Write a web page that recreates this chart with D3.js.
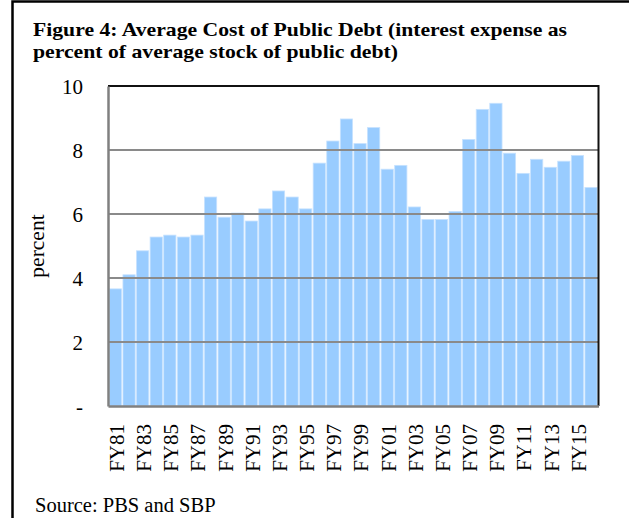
<!DOCTYPE html>
<html>
<head>
<meta charset="utf-8">
<script src="https://cdn.jsdelivr.net/npm/d3@7"></script>
<style>
  html, body { margin: 0; padding: 0; background: #fff; }
  svg { display: block; }
  text { font-family: "Liberation Serif", "Times New Roman", serif; fill: #000; }
</style>
</head>
<body>
<svg id="chart" width="629" height="518"></svg>
<script>
// Fiscal years FY81 .. FY16
const years = ["FY81","FY82","FY83","FY84","FY85","FY86","FY87","FY88","FY89","FY90",
               "FY91","FY92","FY93","FY94","FY95","FY96","FY97","FY98","FY99","FY00",
               "FY01","FY02","FY03","FY04","FY05","FY06","FY07","FY08","FY09","FY10",
               "FY11","FY12","FY13","FY14","FY15","FY16"];
// Interest expense as percent of average stock of public debt
const costPct = [3.66, 4.10, 4.85, 5.28, 5.34, 5.28, 5.34, 6.53, 5.90, 6.03,
                 5.78, 6.16, 6.72, 6.53, 6.16, 7.59, 8.28, 8.97, 8.20, 8.70,
                 7.40, 7.52, 6.22, 5.83, 5.83, 6.08, 8.33, 9.27, 9.46, 7.90,
                 7.27, 7.71, 7.46, 7.65, 7.83, 6.83];
const yTicks = [0, 2, 4, 6, 8, 10];
const xTickLabels = years.filter((d, i) => i % 2 === 0);
const titleLines = ["Figure 4: Average Cost of Public Debt (interest expense as",
                    "percent of average stock of public debt)"];
const yLabel = "percent";
const sourceNote = "Source: PBS and SBP";

const svg = d3.select("#chart");
const plot = { left: 108, right: 598.5, top: 86, bottom: 406 };

// outer frame
svg.append("rect")
  .attr("x", 12.5).attr("y", 1.5)
  .attr("width", 640).attr("height", 540)
  .attr("fill", "none").attr("stroke", "#000").attr("stroke-width", 2.5);

// title (two tightly set bold lines)
const titleWidths = [534, 365];
svg.append("g").selectAll("text").data(titleLines).join("text")
  .attr("x", 33)
  .attr("y", (d, i) => 36.3 + i * 21.7)
  .attr("font-size", 19.5)
  .attr("font-weight", "bold")
  .attr("textLength", (d, i) => titleWidths[i])
  .attr("lengthAdjust", "spacingAndGlyphs")
  .text(d => d);

const x = d3.scaleBand().domain(years).range([plot.left, plot.right]).padding(0.1);
const y = d3.scaleLinear().domain([0, 10]).range([plot.bottom, plot.top]);

// bars
svg.append("g").selectAll("rect").data(costPct).join("rect")
  .attr("x", (d, i) => x(years[i]))
  .attr("y", d => y(d))
  .attr("width", x.bandwidth())
  .attr("height", d => y(0) - y(d))
  .attr("fill", "#99ccff")
  .attr("stroke", "#c6e2ff")
  .attr("stroke-width", 0.8);

// horizontal gridlines
svg.append("g").selectAll("line").data(yTicks.filter(t => t > 0 && t < 10)).join("line")
  .attr("x1", plot.left).attr("x2", plot.right)
  .attr("y1", d => y(d)).attr("y2", d => y(d))
  .attr("stroke", "#8a8a8a").attr("stroke-width", 2);

// plot area border: top and right in black
svg.append("path")
  .attr("d", `M${plot.left},${plot.top}H${plot.right}V${plot.bottom}`)
  .attr("fill", "none").attr("stroke", "#111").attr("stroke-width", 2);

// y axis
const yAxis = d3.axisLeft(y).tickValues(yTicks).tickSize(0).tickPadding(25)
  .tickFormat(d => d === 0 ? "-" : d3.format("d")(d));
const gy = svg.append("g").attr("transform", `translate(${plot.left},0)`).call(yAxis);
gy.select(".domain").attr("stroke", "#808080").attr("stroke-width", 2.5);
gy.selectAll("text")
  .attr("font-size", 21)
  .attr("font-family", "Liberation Serif, Times New Roman, serif")
  .attr("fill", "#000")
  .attr("dy", "0.34em");

// x axis
const xAxis = d3.axisBottom(x).tickValues(xTickLabels).tickSize(0).tickPadding(0);
const gx = svg.append("g").attr("transform", `translate(0,${plot.bottom})`).call(xAxis);
gx.select(".domain").attr("stroke", "#808080").attr("stroke-width", 2.5);
gx.selectAll("text")
  .attr("font-size", 21)
  .attr("font-family", "Liberation Serif, Times New Roman, serif")
  .attr("fill", "#000")
  .attr("text-anchor", "end")
  .attr("transform", "translate(0,18) rotate(-90)")
  .attr("x", 0).attr("y", 0)
  .attr("dy", "0.4em");

// y axis title
svg.append("text")
  .attr("transform", `translate(44,${(plot.top + plot.bottom) / 2}) rotate(-90)`)
  .attr("text-anchor", "middle")
  .attr("font-size", 21.5)
  .text(yLabel);

// source note
svg.append("text")
  .attr("x", 35).attr("y", 512)
  .attr("font-size", 20.5)
  .text(sourceNote);
</script>
</body>
</html>
